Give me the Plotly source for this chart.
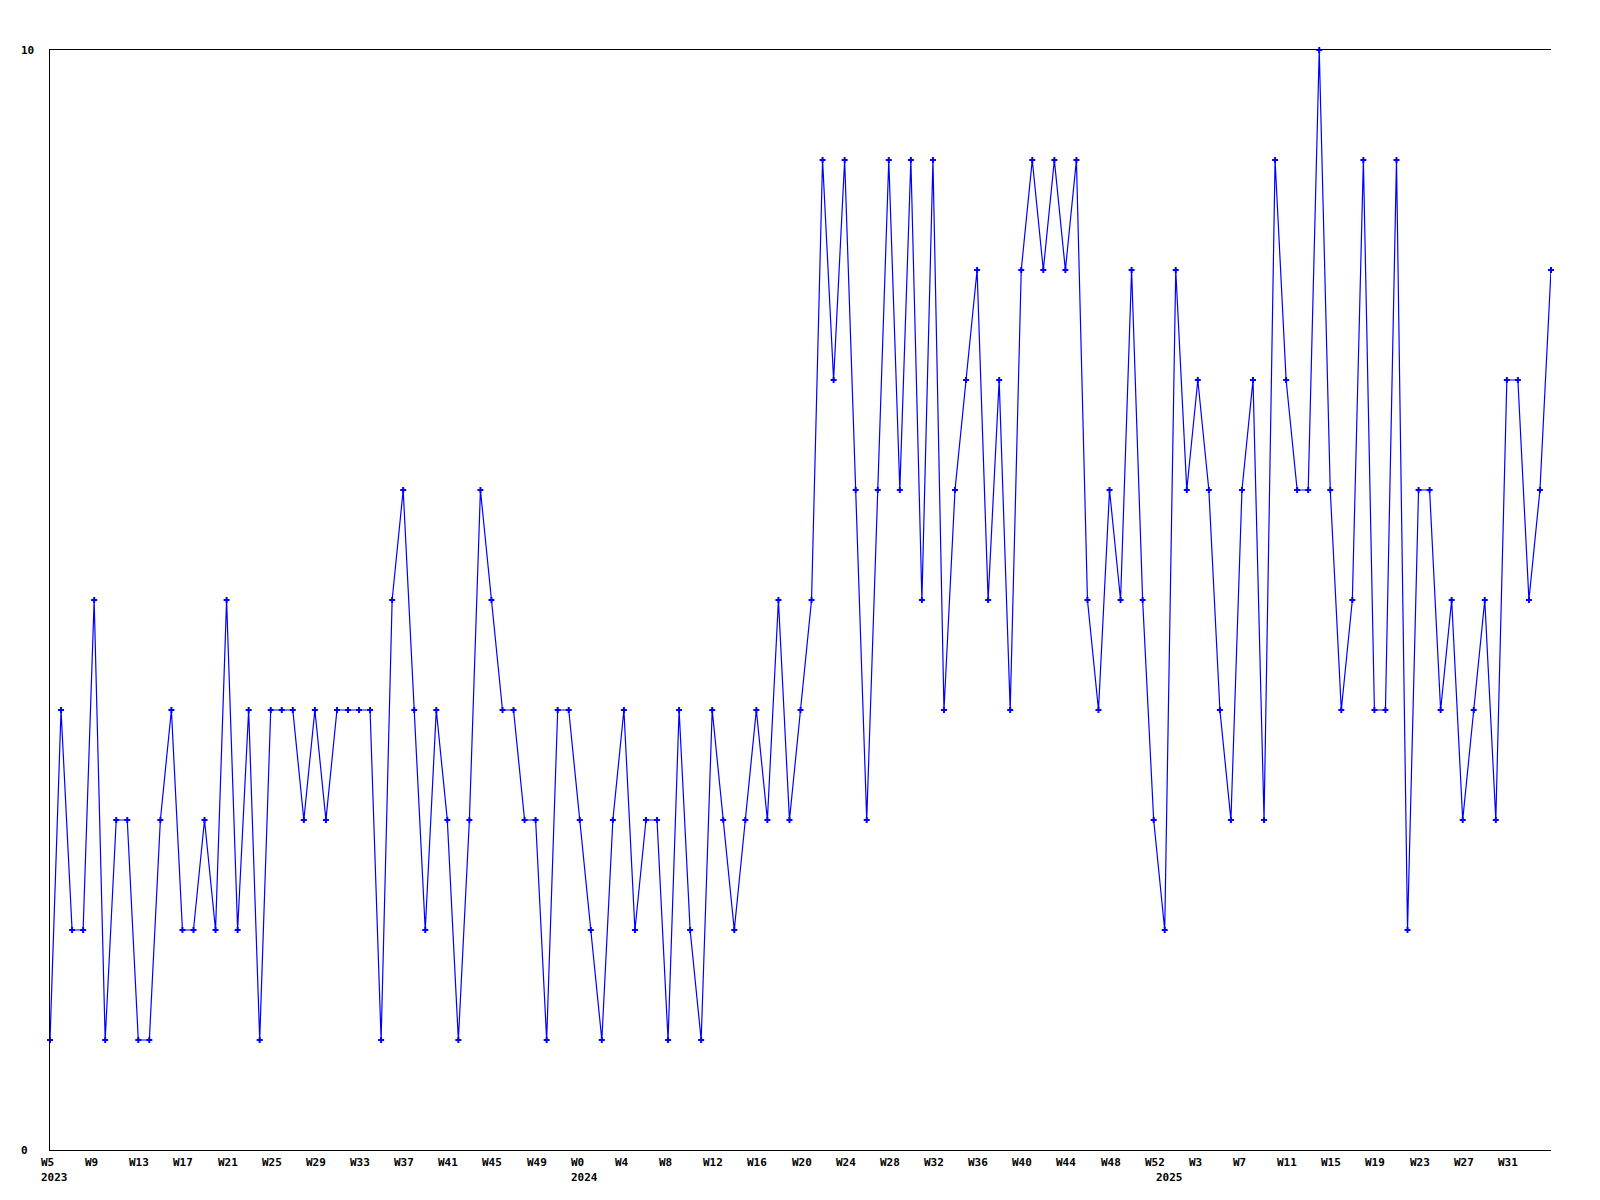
import plotly.graph_objects as go

# ---- data -------------------------------------------------------------
years_2023_weeks = list(range(5, 53))   # W5 .. W52 of 2023
years_2024_weeks = list(range(0, 53))   # W0 .. W52 of 2024
years_2025_weeks = list(range(0, 36))   # W0 .. W35 of 2025

week_labels = ([f"W{w}" for w in years_2023_weeks]
               + [f"W{w}" for w in years_2024_weeks]
               + [f"W{w}" for w in years_2025_weeks])
year_of_point = (["2023"] * len(years_2023_weeks)
                 + ["2024"] * len(years_2024_weeks)
                 + ["2025"] * len(years_2025_weeks))

values = [
    1, 4, 2, 2, 5, 1, 3, 3, 1, 1, 3, 4, 2, 2, 3, 2, 5, 2, 4, 1,
    4, 4, 4, 3, 4, 3, 4, 4, 4, 4, 1, 5, 6, 4, 2, 4, 3, 1,
    3, 6, 5, 4, 4, 3, 3, 1, 4, 4, 3, 2, 1, 3, 4, 2, 3, 3, 1, 4,
    2, 1, 4, 3, 2, 3, 4, 3, 5, 3, 4, 5,
    9, 7, 9, 6, 3, 6, 9, 6, 9, 5, 9, 4, 6, 7, 8, 5, 7, 4, 8, 9,
    8, 9, 8, 9, 5, 4, 6, 5, 8, 5, 3, 2, 8, 6, 7, 6, 4, 3, 6, 7,
    3, 9, 7, 6, 6, 10, 6, 4, 5, 9, 4, 4, 9, 2, 6, 6, 4, 5, 3, 4,
    5, 3, 7, 7, 5, 6, 8,
]

y_tick_labels = ["0", "10"]
y_range = [0, 10]
tick_step = 4
last_tick_index = 132   # W31 2025 is the last labelled week

# ---- figure -----------------------------------------------------------
x_idx = list(range(len(values)))
FONT = "DejaVu Sans Mono"

fig = go.Figure()
fig.add_trace(go.Scatter(
    x=x_idx, y=values, mode="lines+markers",
    line=dict(color="#0000ff", width=1.2),
    marker=dict(symbol="cross", size=5, color="#0000ff"),
    cliponaxis=False, hoverinfo="skip", showlegend=False,
))

annotations = []
# week tick labels
for i in range(0, last_tick_index + 1, tick_step):
    annotations.append(dict(
        x=i, xref="x", y=0, yref="paper", text=f"<b>{week_labels[i]}</b>",
        showarrow=False, xanchor="left", yanchor="middle",
        xshift=-11, yshift=-12,
        font=dict(family=FONT, size=11, color="black"),
    ))
# year labels: first point and first week of each new year
prev = None
for i, yr in enumerate(year_of_point):
    if yr != prev:
        annotations.append(dict(
            x=i, xref="x", y=0, yref="paper", text=f"<b>{yr}</b>",
            showarrow=False, xanchor="left", yanchor="middle",
            xshift=-11, yshift=-27,
            font=dict(family=FONT, size=11, color="black"),
        ))
        prev = yr
# y labels
for v, t in zip(y_range, y_tick_labels):
    annotations.append(dict(
        x=0, xref="paper", y=v, yref="y", text=f"<b>{t}</b>",
        showarrow=False, xanchor="left", yanchor="middle",
        xshift=-31, font=dict(family=FONT, size=11, color="black"),
    ))

fig.update_layout(
    width=1584, height=1184, autosize=False,
    margin=dict(l=42, r=41, t=42, b=42),
    paper_bgcolor="white", plot_bgcolor="white",
    annotations=annotations,
    xaxis=dict(range=[0, len(values) - 1], showgrid=False, zeroline=False,
               showticklabels=False, ticks="", showline=True, mirror=True,
               linecolor="black", linewidth=1, fixedrange=True),
    yaxis=dict(range=y_range, showgrid=False, zeroline=False,
               showticklabels=False, ticks="", showline=True, mirror=False,
               linecolor="black", linewidth=1, fixedrange=True),
)

fig.write_html("out.html", config={"displayModeBar": False})
